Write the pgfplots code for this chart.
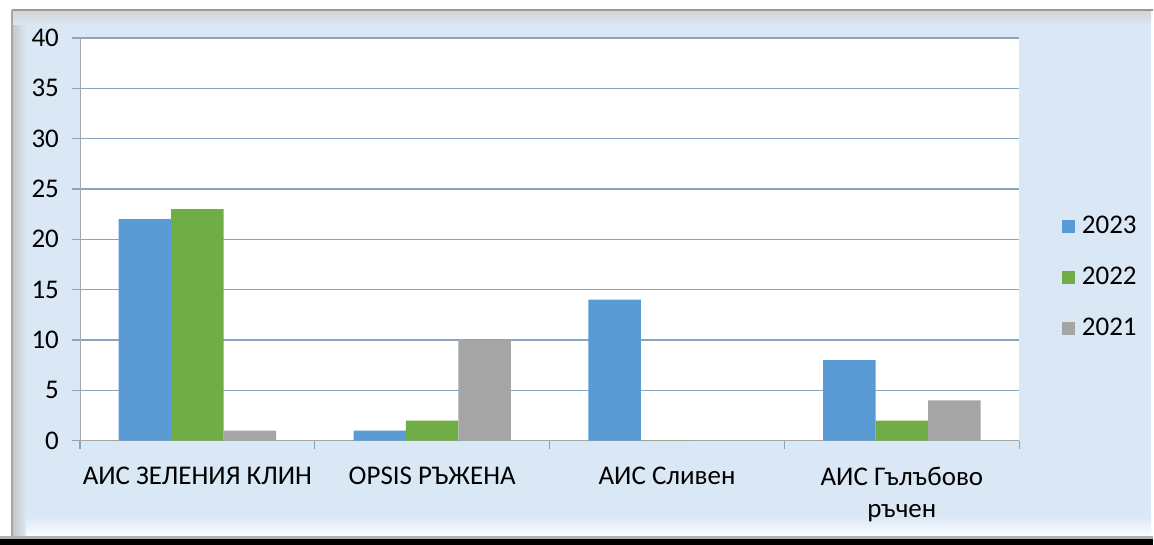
\documentclass[border=0pt]{standalone}
\usepackage{fontspec}
\setmainfont{Carlito}
\usepackage{pgfplots}
\pgfplotsset{compat=1.18}
\definecolor{c23}{RGB}{91,155,213}
\definecolor{c22}{RGB}{112,173,71}
\definecolor{c21}{RGB}{165,165,165}
\definecolor{panel}{RGB}{218,232,245}
\definecolor{gridc}{RGB}{140,165,190}
\begin{document}
\begin{tikzpicture}[font=\fontsize{13.5}{16}\selectfont]
% page and frame
\fill[white] (0,0) rectangle (577pt,272.5pt);
\fill[panel] (6pt,4.5pt) rectangle (576pt,267.5pt);
\shade[left color=gray!45, right color=panel] (6pt,4.5pt) rectangle (13pt,267.5pt);
\shade[bottom color=white!90!panel, top color=panel] (13pt,4.5pt) rectangle (576pt,14pt);
\shade[top color=gray!35, bottom color=panel] (6pt,260pt) rectangle (576pt,267.5pt);
\draw[gray!80, line width=0.8pt] (6pt,267.5pt) -- (577pt,267.5pt);
\draw[gray!70, line width=0.6pt] (6pt,4.5pt) -- (6pt,267.5pt);
\fill[gray!60] (0,3pt) rectangle (577pt,4.2pt);
\fill[black] (0,0) rectangle (577pt,3pt);
\begin{axis}[
  at={(40pt,52pt)}, anchor=south west,
  width=470pt, height=201.5pt, scale only axis,
  axis background/.style={fill=white},
  ymin=0, ymax=40, ytick={0,5,...,40},
  xmin=-0.5, xmax=3.5,
  xtick={-0.5,0.5,1.5,2.5},
  xticklabels={АИС ЗЕЛЕНИЯ КЛИН, OPSIS РЪЖЕНА, АИС Сливен, {АИС Гълъбово\\ръчен}},
  xticklabel style={xshift=58.75pt, align=center, yshift=-5.5pt, anchor=north},
  extra x ticks={3.5}, extra x tick labels={},
  yticklabel style={xshift=-3pt},
  axis lines=left, axis line style={-, draw=gray!70},
  tick align=outside, major tick length=4pt,
  tick style={draw=gridc, line width=0.6pt},
  ymajorgrids, grid style={draw=gridc, line width=0.6pt},
  /pgf/number format/assume math mode=true,
  ybar, bar width=0.2234,
  legend style={at={(1.045,0.405)}, anchor=west, draw=none, fill=none,
    row sep=11.3pt, font=\fontsize{13.5}{16}\selectfont, inner sep=0pt},
  legend cell align=left,
  legend image code/.code={\fill[#1,draw=none] (0pt,-3.3pt) rectangle (6.6pt,3.3pt);\path (8pt,0pt);},
]
\addplot[fill=c23, draw=none, bar shift=-0.2234] coordinates {(0,22) (1,1) (2,14) (3,8)};
\addplot[fill=c22, draw=none, bar shift=0] coordinates {(0,23) (1,2) (2,0) (3,2)};
\addplot[fill=c21, draw=none, bar shift=0.2234] coordinates {(0,1) (1,10) (2,0) (3,4)};
\legend{2023,2022,2021}
\end{axis}
\end{tikzpicture}
\end{document}
